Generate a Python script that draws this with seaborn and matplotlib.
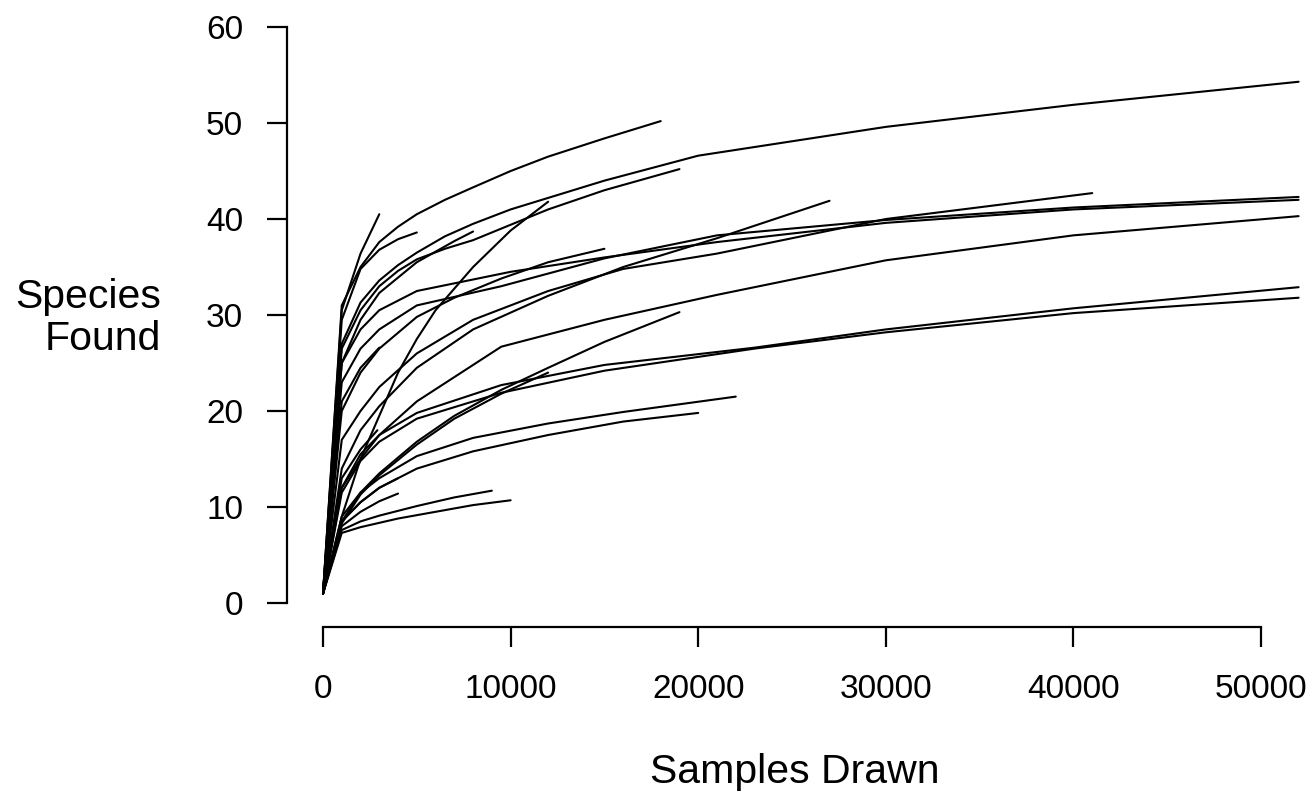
import numpy as np
import pandas as pd
import matplotlib
matplotlib.use("Agg")
import matplotlib.pyplot as plt
import seaborn as sns

# ---- data: rarefaction curves (samples drawn, species found) ----
A_x = [1, 1000, 2000, 3000, 4000, 5000, 6500, 8000, 10000, 15000, 20000, 30000, 40000, 52000]
A_y = [1, 27, 31.3, 33.6, 35.2, 36.5, 38.2, 39.5, 41, 44, 46.6, 49.6, 51.9, 54.3]
B_x = [1, 1000, 2000, 3000, 4000, 5000, 6500, 8000, 10000, 12000, 15000, 18000]
B_y = [1, 31, 35, 37.6, 39.2, 40.5, 42.0, 43.3, 45.0, 46.5, 48.4, 50.2]
C_x = [1, 1000, 2000, 3000, 4000, 5000, 6500, 8000, 12000, 15000, 19000]
C_y = [1, 26.5, 30.5, 33, 34.6, 35.8, 36.9, 37.8, 41, 43, 45.2]
D_x = [1, 1000, 2000, 3000, 5000, 9500, 15000, 21000, 30000, 40000, 52000]
D_y = [1, 23, 26.5, 28.5, 31, 33.0, 35.9, 38.3, 39.9, 41.2, 42.3]
E_x = [1, 1000, 2000, 3000, 5000, 10000, 15000, 21000, 30000, 40000, 52000]
E_y = [1, 25, 28.5, 30.5, 32.5, 34.5, 36.0, 37.6, 39.6, 41.0, 42.0]
F_x = [1, 1000, 2000, 3000, 5000, 9500, 15000, 21000, 30000, 40000, 52000]
F_y = [1, 12, 15, 17.5, 21, 26.7, 29.5, 32.1, 35.7, 38.3, 40.3]
G_x = [1, 1000, 2000, 3000, 5000, 9500, 15000, 23000, 30000, 40000, 52000]
G_y = [1, 12, 15.5, 17.5, 19.8, 22.7, 24.8, 26.6, 28.5, 30.7, 32.9]
H_x = [1, 1000, 2000, 3000, 5000, 9500, 15000, 23000, 30000, 40000, 52000]
H_y = [1, 11.5, 14.8, 16.8, 19.2, 21.9, 24.2, 26.5, 28.2, 30.2, 31.8]
I_x = [1, 1000, 2000, 3000, 5000, 8000, 12000, 16000, 21000, 30000, 41000]
I_y = [1, 17, 20, 22.5, 26, 29.5, 32.5, 34.8, 36.4, 40, 42.7]
J_x = [1, 1000, 2000, 3000, 5000, 8000, 12000, 16000, 21000, 27000]
J_y = [1, 14, 18, 20.5, 24.5, 28.5, 32, 35, 38, 41.9]
K_x = [1, 1000, 2000, 3000, 4000, 5000, 6000, 8000, 10000, 12000]
K_y = [1, 9, 15, 19.5, 24, 27.5, 30.5, 35, 38.8, 41.8]
L_x = [1, 1000, 2000, 3000, 5000, 7000, 9500, 12000, 15000]
L_y = [1, 20, 24, 26.5, 29.8, 31.8, 33.8, 35.5, 36.9]
M_x = [1, 1000, 2000, 3000, 5000, 7000, 9500, 12000, 15000, 19000]
M_y = [1, 8.5, 11.5, 13.5, 16.8, 19.5, 22.2, 24.5, 27.2, 30.3]
N_x = [1, 1000, 2000, 3000, 5000, 7000, 9500, 12000]
N_y = [1, 8.3, 11.3, 13.3, 16.5, 19.2, 21.8, 24.0]
O_x = [1, 1000, 2000, 3000, 5000, 8000, 12000, 16000, 22000]
O_y = [1, 9, 11.5, 13, 15.3, 17.2, 18.7, 19.9, 21.5]
P_x = [1, 1000, 2000, 3000, 5000, 8000, 12000, 16000, 20000]
P_y = [1, 8.5, 10.5, 12, 14, 15.8, 17.5, 18.9, 19.8]
Q_x = [1, 1000, 2000, 3000, 5000, 7000, 9000]
Q_y = [1, 7.6, 8.5, 9.1, 10.1, 11.0, 11.7]
R_x = [1, 1000, 2000, 4000, 6000, 8000, 10000]
R_y = [1, 7.3, 7.9, 8.8, 9.5, 10.2, 10.7]
S1_x = [1, 1000, 2000, 3000]
S1_y = [1, 30.5, 36.4, 40.5]
S2_x = [1, 1000, 2000, 3000, 4000, 5000]
S2_y = [1, 29.5, 34.8, 36.8, 37.9, 38.6]
S3_x = [1, 1000, 2000, 3000, 5000, 7000, 8000]
S3_y = [1, 25, 29.5, 32.3, 35.5, 37.7, 38.7]
T1_x = [1, 1000, 2000, 3000, 4000]
T1_y = [1, 8.5, 10.5, 12, 13]
T2_x = [1, 1000, 2000, 3000, 4000]
T2_y = [1, 8, 9.5, 10.6, 11.4]
T3_x = [1, 1000, 2000, 3000]
T3_y = [1, 21, 24.5, 26.6]
T4_x = [1, 1000, 2000, 2900]
T4_y = [1, 13, 16, 18]

x_ticks = [0, 10000, 20000, 30000, 40000, 50000]
y_ticks = [0, 10, 20, 30, 40, 50, 60]
x_label = "Samples Drawn"
y_label = "Species\nFound"

curves = {
    "A": (A_x, A_y), "B": (B_x, B_y), "C": (C_x, C_y), "D": (D_x, D_y),
    "E": (E_x, E_y), "F": (F_x, F_y), "G": (G_x, G_y), "H": (H_x, H_y),
    "I": (I_x, I_y), "J": (J_x, J_y), "K": (K_x, K_y), "L": (L_x, L_y),
    "M": (M_x, M_y), "N": (N_x, N_y), "O": (O_x, O_y), "P": (P_x, P_y),
    "Q": (Q_x, Q_y), "R": (R_x, R_y), "S1": (S1_x, S1_y), "S2": (S2_x, S2_y),
    "S3": (S3_x, S3_y), "T1": (T1_x, T1_y), "T2": (T2_x, T2_y),
    "T3": (T3_x, T3_y), "T4": (T4_x, T4_y),
}

frames = []
for name, (xs, ys) in curves.items():
    frames.append(pd.DataFrame({"samples": xs, "species": ys, "site": name}))
df = pd.concat(frames, ignore_index=True)

sns.set_theme(style="white")
plt.rcParams["font.family"] = ["Liberation Sans", "DejaVu Sans"]
plt.rcParams["text.color"] = "black"

W, H = 1316, 798
fig = plt.figure(figsize=(W / 100, H / 100), dpi=100)
ax = fig.add_axes([287 / W, 1 - 627 / H, (1308 - 287) / W, (627 - 4) / H])

sns.lineplot(data=df, x="samples", y="species", units="site", estimator=None,
             sort=False, color="black", linewidth=1.5, ax=ax, legend=False)

ax.set_xlim(-1919, 52501)
ax.set_ylim(-2.5, 62.4)
for s in ["top", "right"]:
    ax.spines[s].set_visible(False)
for s in ["left", "bottom"]:
    ax.spines[s].set_color("black")
    ax.spines[s].set_linewidth(1.6)
ax.spines["left"].set_bounds(0, 60)
ax.spines["bottom"].set_bounds(0, 50000)
ax.set_xticks(x_ticks)
ax.set_yticks(y_ticks)
ax.set_xticklabels([str(t) for t in x_ticks])
ax.set_yticklabels([str(t) for t in y_ticks])
ax.tick_params(axis="both", which="major", direction="out", length=14.5,
               width=1.6, color="black", labelsize=24, labelcolor="black",
               left=True, bottom=True)
ax.tick_params(axis="y", pad=17)
ax.tick_params(axis="x", pad=19)
ax.set_xlabel("")
ax.set_ylabel("")
ax.grid(False)

fig.text(795 / W, 1 - 772 / H, x_label, ha="center", va="center", fontsize=29.5,
         color="black")
fig.text(161 / W, 1 - 318 / H, y_label, ha="right", va="center", fontsize=29.5,
         multialignment="right", linespacing=1.12, color="black")

fig.savefig("out.png", dpi=100, facecolor="white")
